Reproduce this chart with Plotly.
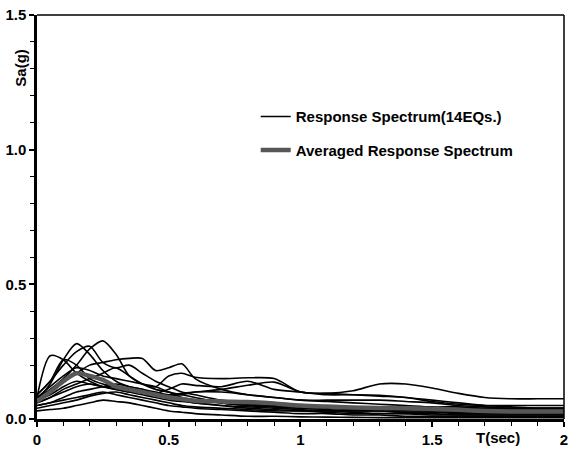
import plotly.graph_objects as go

# Periods (sec)
T = [0, 0.05, 0.1, 0.15, 0.2, 0.25, 0.3, 0.35, 0.4, 0.45, 0.5, 0.55, 0.6, 0.7,
     0.8, 0.9, 1.0, 1.1, 1.2, 1.3, 1.4, 1.5, 1.6, 1.7, 1.8, 1.9, 2.0]

# 14 earthquake response spectra, Sa(g)
eq01 = [0.08, 0.11, 0.15, 0.20, 0.26, 0.29, 0.24, 0.16, 0.13, 0.11, 0.10, 0.09, 0.08, 0.06,
        0.05, 0.045, 0.04, 0.035, 0.03, 0.03, 0.025, 0.025, 0.02, 0.02, 0.02, 0.02, 0.02]
eq02 = [0.07, 0.13, 0.22, 0.28, 0.24, 0.18, 0.14, 0.12, 0.11, 0.09, 0.08, 0.07, 0.06, 0.05,
        0.04, 0.035, 0.03, 0.03, 0.025, 0.02, 0.02, 0.02, 0.015, 0.015, 0.015, 0.015, 0.015]
eq03 = [0.08, 0.235, 0.22, 0.17, 0.14, 0.12, 0.11, 0.10, 0.09, 0.08, 0.07, 0.065, 0.06, 0.05,
        0.045, 0.04, 0.035, 0.03, 0.03, 0.03, 0.025, 0.025, 0.025, 0.025, 0.025, 0.025, 0.025]
eq04 = [0.09, 0.14, 0.20, 0.25, 0.27, 0.21, 0.19, 0.20, 0.17, 0.14, 0.12, 0.10, 0.09, 0.07,
        0.06, 0.05, 0.05, 0.045, 0.04, 0.04, 0.035, 0.035, 0.035, 0.035, 0.035, 0.035, 0.035]
eq05 = [0.07, 0.10, 0.14, 0.17, 0.20, 0.21, 0.22, 0.225, 0.225, 0.18, 0.19, 0.205, 0.15, 0.11,
        0.09, 0.08, 0.07, 0.065, 0.06, 0.055, 0.05, 0.045, 0.045, 0.04, 0.04, 0.04, 0.04]
eq06 = [0.06, 0.08, 0.11, 0.13, 0.15, 0.17, 0.19, 0.16, 0.13, 0.12, 0.16, 0.17, 0.155, 0.15,
        0.153, 0.15, 0.10, 0.095, 0.09, 0.085, 0.08, 0.07, 0.06, 0.05, 0.045, 0.04, 0.04]
eq07 = [0.06, 0.08, 0.10, 0.12, 0.13, 0.12, 0.11, 0.10, 0.10, 0.09, 0.09, 0.095, 0.10, 0.11,
        0.125, 0.137, 0.10, 0.095, 0.105, 0.13, 0.13, 0.115, 0.095, 0.08, 0.075, 0.075, 0.075]
eq08 = [0.07, 0.09, 0.12, 0.14, 0.13, 0.12, 0.12, 0.11, 0.10, 0.095, 0.11, 0.13, 0.125, 0.12,
        0.14, 0.11, 0.10, 0.09, 0.09, 0.088, 0.08, 0.065, 0.055, 0.05, 0.05, 0.05, 0.05]
eq09 = [0.05, 0.06, 0.08, 0.10, 0.11, 0.12, 0.13, 0.12, 0.11, 0.10, 0.09, 0.09, 0.10, 0.10,
        0.09, 0.08, 0.07, 0.07, 0.07, 0.07, 0.065, 0.06, 0.05, 0.045, 0.04, 0.04, 0.04]
eq10 = [0.05, 0.06, 0.07, 0.08, 0.09, 0.10, 0.09, 0.08, 0.07, 0.06, 0.05, 0.045, 0.04, 0.035,
        0.03, 0.025, 0.02, 0.02, 0.015, 0.015, 0.01, 0.01, 0.01, 0.01, 0.01, 0.01, 0.01]
eq11 = [0.04, 0.05, 0.06, 0.07, 0.085, 0.095, 0.10, 0.09, 0.08, 0.07, 0.06, 0.05, 0.045, 0.04,
        0.035, 0.03, 0.03, 0.025, 0.02, 0.02, 0.02, 0.015, 0.015, 0.015, 0.015, 0.015, 0.015]
eq12 = [0.03, 0.035, 0.04, 0.05, 0.06, 0.07, 0.065, 0.06, 0.05, 0.04, 0.03, 0.025, 0.02, 0.015,
        0.01, 0.01, 0.008, 0.007, 0.006, 0.005, 0.005, 0.005, 0.005, 0.005, 0.005, 0.005, 0.005]
eq13 = [0.08, 0.12, 0.16, 0.19, 0.18, 0.16, 0.15, 0.14, 0.13, 0.12, 0.10, 0.08, 0.07, 0.06,
        0.05, 0.045, 0.04, 0.04, 0.035, 0.035, 0.03, 0.03, 0.03, 0.03, 0.03, 0.03, 0.03]
eq14 = [0.09, 0.14, 0.22, 0.20, 0.15, 0.13, 0.12, 0.11, 0.10, 0.09, 0.08, 0.075, 0.07, 0.06,
        0.055, 0.05, 0.045, 0.04, 0.04, 0.04, 0.04, 0.04, 0.04, 0.04, 0.04, 0.04, 0.04]

# Averaged response spectrum
average = [0.065, 0.10, 0.14, 0.17, 0.16, 0.145, 0.12, 0.11, 0.10, 0.09, 0.08, 0.074, 0.068, 0.065,
           0.063, 0.058, 0.05, 0.046, 0.043, 0.041, 0.04, 0.038, 0.034, 0.03, 0.028, 0.028, 0.028]

spectra = [eq01, eq02, eq03, eq04, eq05, eq06, eq07, eq08, eq09, eq10, eq11, eq12, eq13, eq14]

x_tickvals = [0, 0.5, 1, 1.5, 2]
x_ticktext = ["0", "0.5", "1", "1.5", "2"]
y_tickvals = [0, 0.5, 1.0, 1.5]
y_ticktext = ["0.0", "0.5", "1.0", "1.5"]

FONT = "Liberation Sans, Arial, sans-serif"
FS = 15

fig = go.Figure()
for i, s in enumerate(spectra):
    fig.add_trace(go.Scatter(
        x=T, y=s, mode="lines",
        line=dict(color="black", width=1.6, shape="spline", smoothing=0.8),
        name="Response Spectrum(14EQs.)",
        legendgroup="eq", showlegend=(i == 0),
    ))
fig.add_trace(go.Scatter(
    x=T, y=average, mode="lines",
    line=dict(color="#575757", width=4.5, shape="spline", smoothing=0.8),
    name="Averaged Response Spectrum", legendgroup="avg",
))

axis_common = dict(
    showgrid=False, zeroline=False, showline=True, linecolor="black", linewidth=2.5,
    automargin=False,
    ticks="outside", ticklen=5, tickwidth=1.5, tickcolor="black",
    ticklabeloverflow="allow",
    tickfont=dict(family=FONT, size=FS, color="black", weight="bold"),
    minor=dict(ticks="outside", ticklen=4, tickwidth=1.2, tickcolor="black", dtick=0.1),
)

fig.update_xaxes(range=[0, 2.0005], tickvals=x_tickvals, ticktext=x_ticktext, **axis_common)
fig.update_yaxes(range=[0, 1.5], tickvals=y_tickvals, ticktext=y_ticktext, **axis_common)

# thin frame on top / right
fig.add_shape(type="line", xref="paper", yref="paper", x0=0, x1=1, y0=1, y1=1,
              line=dict(color="black", width=1.5))
fig.add_shape(type="line", xref="paper", yref="paper", x0=1, x1=1, y0=0, y1=1,
              line=dict(color="black", width=1.5))

fig.add_annotation(text="Sa(g)", xref="paper", yref="paper", x=-0.032, y=0.87,
                   xanchor="center", yanchor="middle",
                   textangle=-90, showarrow=False,
                   font=dict(family=FONT, size=FS, color="black", weight="bold"))
fig.add_annotation(text="T(sec)", xref="paper", yref="paper", x=0.875, y=-0.046,
                   xanchor="center", yanchor="middle", showarrow=False,
                   font=dict(family=FONT, size=FS, color="black", weight="bold"))

fig.update_layout(
    template="none",
    width=571, height=457,
    margin=dict(l=37, r=7, t=15, b=38),
    paper_bgcolor="white", plot_bgcolor="white",
    showlegend=True,
    legend=dict(x=0.415, y=0.789, xanchor="left", yanchor="top",
                bgcolor="rgba(0,0,0,0)", tracegroupgap=11,
                font=dict(family=FONT, size=FS, color="black", weight="bold")),
)

# remove the browser's default 8px page margin so the figure fills the window
fig.write_html("out.html", config={"displayModeBar": False},
               post_script="document.body.style.margin='0px';")
